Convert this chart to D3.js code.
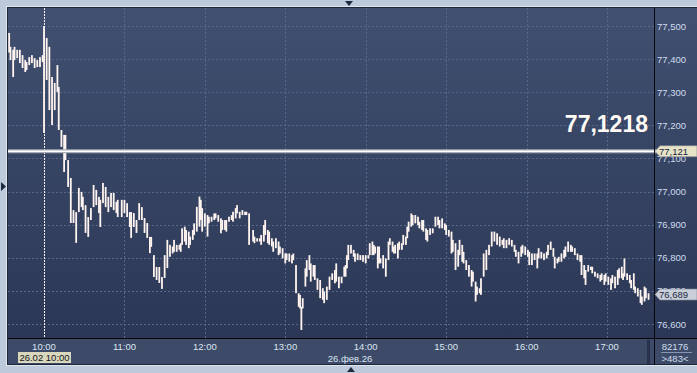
<!DOCTYPE html>
<html>
<head>
<meta charset="utf-8">
<script src="https://cdn.jsdelivr.net/npm/d3@7"></script>
<style>
  body { margin: 0; background: #bccadb; }
  svg { display: block; font-family: "Liberation Sans", Arial, sans-serif; }
</style>
</head>
<body>
<script>

// Bars: [minutes after 10:00, high, low]
var bars = [
  [-26, 77.479, 77.420], [-25, 77.437, 77.397], [-23, 77.428, 77.346], [-22, 77.437, 77.397],
  [-20, 77.428, 77.403], [-18, 77.428, 77.388], [-16, 77.412, 77.373], [-14, 77.397, 77.361],
  [-13, 77.391, 77.367], [-11, 77.406, 77.382], [-9, 77.412, 77.388], [-7, 77.403, 77.373],
  [-5, 77.397, 77.376], [-3, 77.406, 77.376], [-1, 77.412, 77.391], [0, 77.500, 77.177],
  [2, 77.464, 77.337], [4, 77.437, 77.246], [6, 77.346, 77.201], [8, 77.328, 77.246],
  [10, 77.382, 77.301], [11, 77.316, 77.186], [13, 77.186, 77.135], [15, 77.171, 77.059],
  [16, 77.171, 77.095], [18, 77.095, 77.014], [20, 77.041, 76.905], [22, 76.944, 76.905],
  [24, 76.938, 76.845], [26, 77.011, 76.938], [28, 76.999, 76.953], [29, 76.984, 76.944],
  [31, 76.959, 76.875], [33, 76.923, 76.863], [35, 76.950, 76.914], [37, 77.020, 76.953],
  [39, 77.005, 76.959], [41, 76.984, 76.935], [42, 76.975, 76.893], [44, 77.026, 76.965],
  [46, 77.014, 76.953], [48, 76.984, 76.938], [50, 76.996, 76.953], [52, 76.996, 76.944],
  [54, 76.969, 76.935], [55, 76.975, 76.923], [58, 76.975, 76.923], [60, 76.975, 76.935],
  [62, 76.965, 76.923], [64, 76.938, 76.893], [65, 76.938, 76.860], [67, 76.935, 76.893],
  [69, 76.914, 76.875], [71, 76.965, 76.914], [73, 76.953, 76.914], [75, 76.920, 76.875],
  [77, 76.905, 76.860], [79, 76.863, 76.814], [80, 76.863, 76.833], [82, 76.808, 76.742],
  [84, 76.772, 76.733], [86, 76.772, 76.724], [88, 76.742, 76.706], [90, 76.808, 76.739],
  [92, 76.854, 76.769], [94, 76.839, 76.803], [96, 76.834, 76.813], [97, 76.854, 76.818],
  [99, 76.839, 76.818], [101, 76.839, 76.824], [102, 76.844, 76.818], [103, 76.889, 76.839],
  [105, 76.894, 76.849], [106, 76.884, 76.839], [108, 76.879, 76.829], [109, 76.864, 76.839],
  [111, 76.884, 76.854], [112, 76.904, 76.869], [114, 76.954, 76.879], [116, 76.985, 76.894],
  [117, 76.975, 76.914], [118, 76.950, 76.879], [120, 76.934, 76.894], [122, 76.929, 76.864],
  [123, 76.924, 76.904], [125, 76.924, 76.909], [127, 76.934, 76.914], [128, 76.934, 76.919],
  [130, 76.929, 76.909], [132, 76.919, 76.874], [133, 76.914, 76.884], [135, 76.914, 76.884],
  [136, 76.914, 76.879], [138, 76.924, 76.909], [140, 76.929, 76.914], [141, 76.939, 76.909],
  [143, 76.950, 76.919], [144, 76.959, 76.934], [146, 76.939, 76.919], [148, 76.944, 76.929],
  [150, 76.939, 76.929], [151, 76.939, 76.929], [153, 76.934, 76.839], [156, 76.884, 76.849],
  [157, 76.864, 76.844], [159, 76.859, 76.849], [161, 76.859, 76.849], [162, 76.869, 76.839],
  [164, 76.899, 76.849], [165, 76.914, 76.869], [167, 76.884, 76.844], [168, 76.879, 76.839],
  [170, 76.859, 76.834], [171, 76.849, 76.818], [173, 76.859, 76.829], [175, 76.849, 76.808],
  [176, 76.834, 76.813], [178, 76.829, 76.798], [180, 76.813, 76.783], [181, 76.813, 76.793],
  [183, 76.813, 76.788], [185, 76.808, 76.783], [186, 76.813, 76.793], [188, 76.778, 76.693],
  [190, 76.693, 76.652], [191, 76.688, 76.647], [192, 76.652, 76.582], [193, 76.678, 76.647],
  [195, 76.768, 76.713], [196, 76.793, 76.743], [198, 76.808, 76.763], [199, 76.783, 76.728],
  [201, 76.778, 76.743], [202, 76.778, 76.733], [204, 76.738, 76.703], [206, 76.733, 76.678],
  [208, 76.708, 76.673], [209, 76.698, 76.663], [211, 76.713, 76.673], [213, 76.743, 76.703],
  [215, 76.753, 76.733], [217, 76.763, 76.723], [218, 76.783, 76.728], [220, 76.743, 76.708],
  [222, 76.743, 76.723], [224, 76.773, 76.743], [225, 76.778, 76.743], [226, 76.808, 76.768],
  [227, 76.839, 76.793], [229, 76.839, 76.813], [231, 76.824, 76.803], [232, 76.813, 76.788],
  [234, 76.813, 76.793], [236, 76.808, 76.793], [238, 76.808, 76.788], [240, 76.808, 76.783],
  [242, 76.808, 76.798], [243, 76.844, 76.808], [245, 76.849, 76.808], [246, 76.839, 76.808],
  [247, 76.834, 76.813], [249, 76.834, 76.768], [250, 76.834, 76.783], [251, 76.798, 76.783],
  [253, 76.808, 76.768], [255, 76.798, 76.743], [257, 76.849, 76.793], [258, 76.859, 76.839],
  [260, 76.849, 76.818], [261, 76.834, 76.813], [262, 76.839, 76.813], [264, 76.844, 76.798],
  [265, 76.849, 76.824], [267, 76.844, 76.824], [268, 76.869, 76.839], [270, 76.864, 76.839],
  [271, 76.894, 76.859], [272, 76.909, 76.879], [274, 76.934, 76.894], [275, 76.929, 76.899],
  [277, 76.929, 76.904], [279, 76.924, 76.899], [280, 76.909, 76.889], [282, 76.914, 76.884],
  [283, 76.914, 76.879], [285, 76.889, 76.854], [286, 76.884, 76.849], [288, 76.889, 76.869],
  [290, 76.889, 76.874], [292, 76.924, 76.894], [294, 76.924, 76.899], [295, 76.914, 76.889],
  [297, 76.919, 76.889], [299, 76.904, 76.884], [300, 76.899, 76.869], [302, 76.884, 76.864],
  [304, 76.879, 76.813], [305, 76.854, 76.818], [307, 76.844, 76.763], [309, 76.824, 76.773],
  [310, 76.854, 76.808], [312, 76.839, 76.788], [313, 76.818, 76.783], [315, 76.793, 76.763],
  [317, 76.778, 76.743], [319, 76.763, 76.713], [320, 76.758, 76.728], [322, 76.728, 76.668],
  [323, 76.713, 76.688], [325, 76.708, 76.693], [326, 76.738, 76.688], [328, 76.813, 76.743],
  [330, 76.824, 76.763], [332, 76.839, 76.808], [334, 76.879, 76.834], [336, 76.879, 76.849],
  [338, 76.874, 76.839], [340, 76.864, 76.834], [342, 76.854, 76.839], [343, 76.859, 76.829],
  [345, 76.854, 76.829], [347, 76.859, 76.839], [349, 76.854, 76.834], [351, 76.839, 76.818],
  [352, 76.824, 76.803], [354, 76.818, 76.783], [356, 76.834, 76.803], [357, 76.839, 76.813],
  [359, 76.834, 76.808], [361, 76.824, 76.803], [362, 76.818, 76.778], [364, 76.813, 76.778],
  [366, 76.813, 76.793], [368, 76.813, 76.768], [369, 76.829, 76.798], [371, 76.818, 76.798],
  [373, 76.813, 76.793], [375, 76.818, 76.798], [376, 76.839, 76.808], [378, 76.849, 76.824],
  [380, 76.829, 76.803], [381, 76.803, 76.768], [383, 76.798, 76.783], [384, 76.803, 76.788],
  [386, 76.813, 76.788], [388, 76.824, 76.798], [389, 76.834, 76.803], [391, 76.849, 76.818],
  [393, 76.839, 76.818], [394, 76.834, 76.818], [396, 76.829, 76.808], [398, 76.813, 76.793],
  [400, 76.808, 76.788], [401, 76.808, 76.748], [403, 76.778, 76.738], [404, 76.763, 76.718],
  [406, 76.778, 76.758], [408, 76.773, 76.763], [409, 76.773, 76.753], [411, 76.758, 76.743],
  [413, 76.753, 76.738], [415, 76.748, 76.728], [416, 76.753, 76.733], [418, 76.748, 76.718],
  [419, 76.753, 76.728], [421, 76.743, 76.718], [423, 76.738, 76.703], [424, 76.748, 76.723],
  [426, 76.743, 76.708], [428, 76.763, 76.718], [429, 76.768, 76.738], [431, 76.773, 76.738],
  [432, 76.753, 76.733], [433, 76.798, 76.743], [435, 76.753, 76.733], [437, 76.748, 76.723],
  [438, 76.733, 76.708], [440, 76.753, 76.703], [441, 76.713, 76.693], [443, 76.708, 76.683],
  [445, 76.703, 76.663], [446, 76.683, 76.658], [448, 76.713, 76.668], [449, 76.708, 76.678],
  [451, 76.693, 76.673]
];

var yTicks = [77.5, 77.4, 77.3, 77.2, 77.1, 77.0, 76.9, 76.8, 76.7, 76.6];
var hourTicks = [10, 11, 12, 13, 14, 15, 16, 17];
var levelPrice = 77.1218;
var levelTag = "77,121";
var lastPrice = 76.689;
var dateLabel = "26.фев.26";
var cursorLabel = "26.02 10:00";
var volumeLabel = "82176";
var countLabel = ">483<";

var W = 697, H = 373;
function at(h, m) { return new Date(2026, 1, 26, h, m || 0); }

var svg = d3.select("body").append("svg")
  .attr("width", W).attr("height", H);

// panel layout
var plot = {left: 8, top: 8, right: 654, bottom: 338};

var x = d3.scaleTime()
  .domain([at(10), at(17)])
  .range([44, 607]);

var y = d3.scaleLinear()
  .domain([76.6, 77.5])
  .range([324, 26]);

var defs = svg.append("defs");
var grad = defs.append("linearGradient")
  .attr("id", "bg").attr("x1", 0).attr("y1", 0).attr("x2", 0).attr("y2", 1);
grad.append("stop").attr("offset", "0%").attr("stop-color", "#415070");
grad.append("stop").attr("offset", "100%").attr("stop-color", "#2b3755");

defs.append("clipPath").attr("id", "clip")
  .append("rect")
  .attr("x", plot.left).attr("y", plot.top)
  .attr("width", plot.right - plot.left).attr("height", plot.bottom - plot.top);

// outer frame
svg.append("rect").attr("x", 0).attr("y", 0).attr("width", W).attr("height", H).attr("fill", "#bccadb");
svg.append("rect").attr("x", 6.5).attr("y", 6.5).attr("width", W).attr("height", 359)
  .attr("fill", "none").attr("stroke", "#dfe6ef");
svg.append("rect").attr("x", 7).attr("y", 7).attr("width", W - 7).attr("height", 358).attr("fill", "#1d2536");

// plot + right axis background
svg.append("rect").attr("x", 8).attr("y", 8).attr("width", W - 8).attr("height", plot.bottom - 8)
  .attr("fill", "url(#bg)");
// bottom axis background
svg.append("rect").attr("x", 8).attr("y", plot.bottom + 1).attr("width", W - 8).attr("height", 25)
  .attr("fill", "#3d4b68");

// grid
var grid = svg.append("g").attr("stroke", "#56678a").attr("stroke-dasharray", "2,2");
grid.selectAll(".h").data(yTicks).enter().append("line")
  .attr("x1", plot.left).attr("x2", plot.right)
  .attr("y1", d => Math.round(y(d)) + 0.5).attr("y2", d => Math.round(y(d)) + 0.5);
grid.selectAll(".v").data(hourTicks.slice(1)).enter().append("line")
  .attr("x1", d => Math.round(x(at(d))) + 0.5).attr("x2", d => Math.round(x(at(d))) + 0.5)
  .attr("y1", plot.top).attr("y2", plot.bottom);

// day separator at 10:00
svg.append("line")
  .attr("x1", Math.round(x(at(10))) + 0.5).attr("x2", Math.round(x(at(10))) + 0.5)
  .attr("y1", plot.top).attr("y2", plot.bottom)
  .attr("stroke", "#f2f2f2").attr("stroke-dasharray", "2,1");

// price bars
svg.append("g").attr("clip-path", "url(#clip)")
  .selectAll("rect").data(bars).enter().append("rect")
  .attr("x", d => x(new Date(at(10).getTime() + d[0] * 60000)) - 0.9)
  .attr("width", 1.8)
  .attr("y", d => y(d[1]))
  .attr("height", d => Math.max(1, y(d[2]) - y(d[1])))
  .attr("fill", "#fff4ef");

// level line
var ly = y(levelPrice);
svg.append("line").attr("x1", plot.left).attr("x2", plot.right + 3)
  .attr("y1", ly).attr("y2", ly).attr("stroke", "#a9aeb8").attr("stroke-width", 4);
svg.append("line").attr("x1", plot.left).attr("x2", plot.right + 3)
  .attr("y1", ly).attr("y2", ly).attr("stroke", "#ffffff").attr("stroke-width", 1.6);
svg.append("text")
  .attr("x", 648).attr("y", ly - 19)
  .attr("text-anchor", "end")
  .attr("font-size", 23).attr("font-weight", "bold")
  .attr("fill", "#fffaf4")
  .text(d3.format(".4f")(levelPrice).replace(".", ","));

// separators
svg.append("line").attr("x1", plot.right + 0.5).attr("x2", plot.right + 0.5)
  .attr("y1", plot.top).attr("y2", 365).attr("stroke", "#05070c");
svg.append("line").attr("x1", plot.left).attr("x2", W)
  .attr("y1", plot.bottom + 0.5).attr("y2", plot.bottom + 0.5).attr("stroke", "#05070c");

// right axis
var comma = d => d3.format(".3f")(d).replace(".", ",");
svg.append("g").selectAll("text").data(yTicks).enter().append("text")
  .attr("x", 657).attr("y", d => y(d) + 3.5)
  .attr("font-size", 9.5).attr("fill", "#cfdcef")
  .text(comma);

function priceTag(value, fill, label) {
  var cy = y(value);
  var g = svg.append("g");
  g.append("path")
    .attr("d", "M655," + cy + " L660," + (cy - 5.5) + " L697," + (cy - 5.5) +
      " L697," + (cy + 5.5) + " L660," + (cy + 5.5) + " Z")
    .attr("fill", fill).attr("stroke", "#7d8696").attr("stroke-width", 0.6);
  g.append("text").attr("x", 659).attr("y", cy + 3.5)
    .attr("font-size", 9.5).attr("fill", "#1a2742").text(label);
}
priceTag(levelPrice, "#e7e3c6", levelTag);
priceTag(lastPrice, "#c9ced8", comma(lastPrice));

// bottom axis
var fmt = d3.timeFormat("%H:%M");
svg.append("g").selectAll("text").data(hourTicks).enter().append("text")
  .attr("x", d => x(at(d))).attr("y", 350)
  .attr("text-anchor", "middle")
  .attr("font-size", 9.5).attr("fill", "#dbe5f3")
  .text(d => fmt(at(d)));

svg.append("text").attr("x", 350).attr("y", 362)
  .attr("text-anchor", "middle").attr("font-size", 9.5).attr("fill", "#dbe5f3")
  .text(dateLabel);

svg.append("rect").attr("x", 18).attr("y", 352).attr("width", 53).attr("height", 11)
  .attr("fill", "#d9d7bd");
svg.append("text").attr("x", 44.5).attr("y", 361)
  .attr("text-anchor", "middle").attr("font-size", 9.5).attr("fill", "#10131a")
  .text(cursorLabel);

// scroll stub
svg.append("rect").attr("x", 647).attr("y", plot.bottom + 2).attr("width", 3).attr("height", 24)
  .attr("fill", "#28334b");

// volume box
svg.append("text").attr("x", 675).attr("y", 350).attr("text-anchor", "middle")
  .attr("font-size", 9.5).attr("fill", "#cfdcef").text(volumeLabel);
svg.append("line").attr("x1", 661).attr("x2", 692).attr("y1", 352.5).attr("y2", 352.5)
  .attr("stroke", "#8596b0");
svg.append("text").attr("x", 675).attr("y", 362).attr("text-anchor", "middle")
  .attr("font-size", 9.5).attr("fill", "#cfdcef").text(countLabel);

// small arrows on the frame
svg.append("path").attr("d", "M345,1 L353,1 L349,6 Z").attr("fill", "#1f2a40");
svg.append("path").attr("d", "M347,372 L355,372 L351,367 Z").attr("fill", "#1f2a40");
svg.append("path").attr("d", "M1,182 L6,186.5 L1,191 Z").attr("fill", "#1f2a40");

</script>
</body>
</html>
